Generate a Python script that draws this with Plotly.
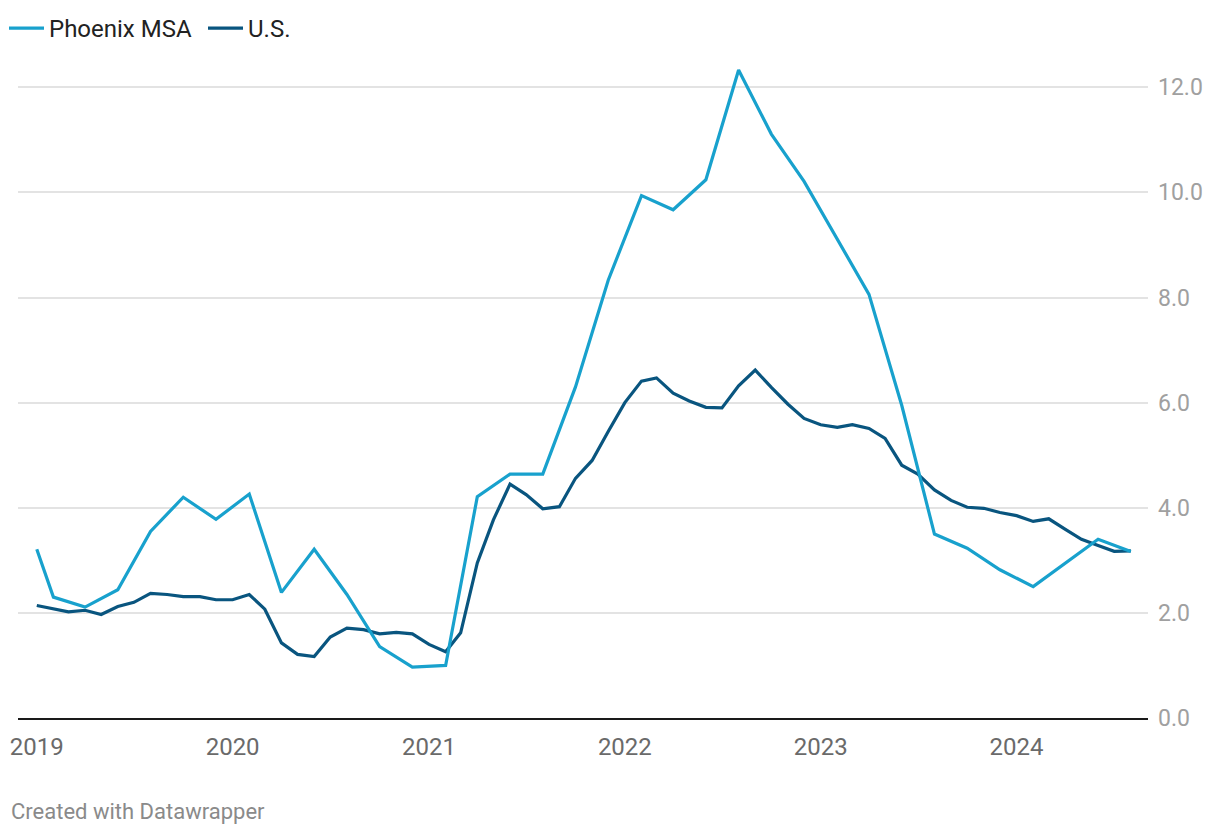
import pandas as pd
import plotly.graph_objects as go

# ---- data ----
us_months = [d.strftime("%Y-%m-%d") for d in pd.date_range("2019-01-01", "2024-08-01", freq="MS")]
us_values = [
    2.14, 2.07, 2.02, 2.05, 1.97, 2.12, 2.20, 2.37, 2.35, 2.31, 2.31, 2.25,
    2.25, 2.35, 2.07, 1.43, 1.21, 1.17, 1.54, 1.71, 1.68, 1.60, 1.63, 1.60,
    1.40, 1.26, 1.62, 2.95, 3.77, 4.45, 4.25, 3.98, 4.02, 4.56, 4.90, 5.45,
    6.00, 6.41, 6.47, 6.18, 6.03, 5.91, 5.90, 6.32, 6.62, 6.29, 5.97, 5.70,
    5.58, 5.53, 5.58, 5.51, 5.32, 4.81, 4.64, 4.34, 4.14, 4.01, 3.99, 3.91,
    3.85, 3.74, 3.79, 3.59, 3.40, 3.28, 3.17, 3.18,
]
phx_months = ["2019-01-01"] + [d.strftime("%Y-%m-%d") for d in pd.date_range("2019-02-01", "2024-08-01", freq="2MS")]
phx_values = [
    3.21, 2.30, 2.11, 2.44, 3.55, 4.20, 3.78, 4.26, 2.39, 3.21, 2.35, 1.36,
    0.97, 1.00, 4.21, 4.64, 4.64, 6.30, 8.33, 9.94, 9.67, 10.24, 12.33, 11.11,
    10.21, 9.10, 8.06, 5.95, 3.50, 3.23, 2.82, 2.50, 2.95, 3.40, 3.17,
]
year_ticks = ["2019-01-01", "2020-01-01", "2021-01-01", "2022-01-01", "2023-01-01", "2024-01-01"]
year_labels = ["2019", "2020", "2021", "2022", "2023", "2024"]
y_ticks = [0, 2, 4, 6, 8, 10, 12]
y_labels = ["0.0", "2.0", "4.0", "6.0", "8.0", "10.0", "12.0"]

PHX_COLOR = "#18a1cd"
US_COLOR = "#09557f"
FONT = "Roboto"

W, H = 1220, 836
ML, MR, MT, MB = 18, 72, 60.5, 117.5
PW, PH = W - ML - MR, H - MT - MB

fig = go.Figure()
fig.add_trace(go.Scatter(
    x=us_months, y=us_values, mode="lines", name="U.S.",
    line=dict(color=US_COLOR, width=3.2), legendrank=2,
))
fig.add_trace(go.Scatter(
    x=phx_months, y=phx_values, mode="lines", name="Phoenix MSA",
    line=dict(color=PHX_COLOR, width=3.2), legendrank=1,
))

fig.update_layout(
    width=W, height=H,
    margin=dict(l=ML, r=MR, t=MT, b=MB, autoexpand=False),
    paper_bgcolor="white", plot_bgcolor="white",
    font=dict(family=FONT, size=20, color="#333333"),
    showlegend=True,
    legend=dict(
        orientation="h", xref="container", yref="container",
        x=4 / W, y=1 - 6 / H, xanchor="left", yanchor="top",
        font=dict(family=FONT, size=24, color="#222222"),
        itemwidth=35, entrywidthmode="pixels", entrywidth=149,
        bgcolor="rgba(0,0,0,0)", tracegroupgap=0,
    ),
    xaxis=dict(
        type="date",
        range=["2018-11-27", "2024-09-02"],
        tickvals=year_ticks, ticktext=year_labels,
        showgrid=False, zeroline=False,
        showline=True, linecolor="#1a1a1a", linewidth=2,
        ticks="", ticklabelstandoff=6,
        tickfont=dict(family=FONT, size=24, color="#6a6a6a"),
    ),
    yaxis=dict(
        side="right", range=[0, 12.5],
        tickvals=y_ticks, ticktext=y_labels,
        showgrid=True, gridcolor="#e3e3e3", gridwidth=1.5,
        zeroline=False, showline=False, ticks="",
        ticklabelstandoff=9,
        tickfont=dict(family=FONT, size=23, color="#a0a0a0"),
    ),
    annotations=[dict(
        text="Created with Datawrapper", xref="paper", yref="paper",
        x=(9 - ML) / PW, y=(H - MB - 812) / PH, xanchor="left", yanchor="middle",
        showarrow=False, font=dict(family=FONT, size=22, color="#8a8a8a"),
    )],
)

fig.write_html("out.html", config={"displayModeBar": False},
               post_script="document.body.style.margin='0';")
